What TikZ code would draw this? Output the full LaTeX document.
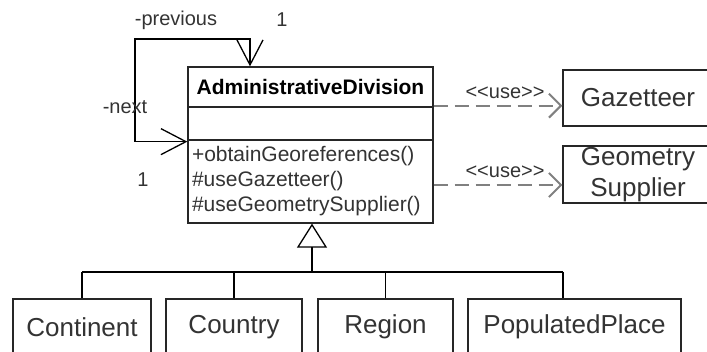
\documentclass[tikz,border=0pt]{standalone}
\usepackage{fontspec}
\setmainfont{Liberation Sans}
\usetikzlibrary{arrows.meta}

\begin{document}
\begin{tikzpicture}[x=1pt,y=-1pt]
              \tikzstyle{every node}+=[inner sep=0pt]
              \tikzstyle{cls}=[draw=black!85, line width=1.3pt]
              \tikzstyle{lbl}=[font=\fontsize{20pt}{24pt}\selectfont, text=black!80]
              \tikzstyle{assoc}=[black, line width=1.3pt, {Straight Barb[length=25pt,width=26pt]}-{Straight Barb[length=25pt,width=26pt]}]
              \tikzstyle{use}=[black!50, line width=2pt, dash pattern=on 14pt off 7pt, -{Straight Barb[length=12pt,width=24pt]}]
              \tikzstyle{gen}=[black, line width=1.3pt]
              \path [use as bounding box, clip] (0,0) rectangle (707,352);
              % main class
              \node (head) [cls, minimum width=245, minimum height=40, font=\fontsize{21pt}{25pt}\selectfont\bfseries] at (310.5,87) {AdministrativeDivision};
              \node (attr) [cls, minimum width=245, minimum height=33] at (310.5,123.5) {};
              \node (ops) [cls, minimum width=245, minimum height=83, text width=237, align=left, font=\fontsize{21pt}{25pt}\selectfont, text=black!80] at (310.5,181.5) {+obtainGeoreferences()\\\#useGazetteer()\\\#useGeometrySupplier()};
              % used classes
              \node (gaz) [cls, minimum width=150, minimum height=56, font=\fontsize{26pt}{30pt}\selectfont, text=black!80] at (638,98) {Gazetteer};
              \node (geo) [cls, minimum width=150, minimum height=57, align=center, font=\fontsize{26pt}{31pt}\selectfont, text=black!80] at (638,174.5) {Geometry\\Supplier};
              % subclasses
              \node (cont) [cls, minimum width=138, minimum height=56, font=\fontsize{26pt}{30pt}\selectfont, text=black!80] at (82,327) {Continent};
              \node (ctry) [cls, minimum width=136, minimum height=56, font=\fontsize{26pt}{30pt}\selectfont, text=black!80] at (234,327) {Country};
              \node (regn) [cls, minimum width=135, minimum height=56, font=\fontsize{26pt}{30pt}\selectfont, text=black!80] at (385.5,327) {Region};
              \node (pop) [cls, minimum width=213, minimum height=56, font=\fontsize{26pt}{30pt}\selectfont, text=black!80] at (574.5,327) {PopulatedPlace};
              % self association
              \coordinate (loop) at (135,39);
              \draw [assoc] ([xshift=-60.5pt]head.north) |- (loop) |- ([yshift=-1pt]attr.south west);
              \node (prev) [lbl] at (176,20) {-previous};
              \node (prevm) [lbl] at (282,20) {1};
              \node (next) [lbl] at (125,107) {-next};
              \node (nextm) [lbl] at (143,180) {1};
              % dependencies
              \draw [use] ([yshift=2pt]head.south east) -- ([yshift=2pt]head.south east -| gaz.west);
              \node (use1) [lbl] at (505,93) {<{}<use>{}>};
              \draw [use] ([yshift=-3.5pt]ops.east) -- ([yshift=-3.5pt]ops.east -| geo.west);
              \node (use2) [lbl] at (505,172) {<{}<use>{}>};
              % generalization
              \coordinate (bar) at (312,272);
              \draw [gen, -{Triangle[open,length=24pt,width=30pt]}] (bar) -- (bar |- ops.south);
              \draw [gen] (bar -| cont.north) -- ([xshift=-11.5pt]bar -| pop.north);
              \draw [gen] (bar -| cont.north) -- (cont.north);
              \draw [gen] (bar -| ctry.north) -- (ctry.north);
              \draw [gen] (bar -| regn.north) -- (regn.north);
              \draw [gen] ([xshift=-11.5pt]bar -| pop.north) -- ([xshift=-11.5pt]pop.north);
            \end{tikzpicture}
\end{document}
